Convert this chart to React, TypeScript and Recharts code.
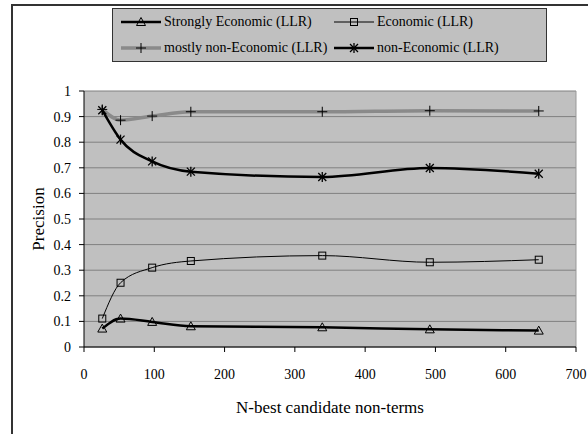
import React from 'react';
import { LineChart, Line, XAxis, YAxis, CartesianGrid, Legend, ReferenceLine } from 'recharts';

// N-best candidates (x) and precision for each LLR list
const nBest = [26, 52, 97, 152, 339, 492, 647];
const stronglyEconomic = [0.072, 0.111, 0.098, 0.081, 0.077, 0.069, 0.064];
const economic = [0.111, 0.251, 0.31, 0.336, 0.357, 0.331, 0.341];
const mostlyNonEconomic = [0.928, 0.886, 0.902, 0.919, 0.919, 0.923, 0.922];
const nonEconomic = [0.925, 0.81, 0.725, 0.685, 0.664, 0.699, 0.677];

const xTicks = [0, 100, 200, 300, 400, 500, 600, 700];
const yTicks = [0, 0.1, 0.2, 0.3, 0.4, 0.5, 0.6, 0.7, 0.8, 0.9, 1];

const FONT = "'Liberation Serif', 'Times New Roman', serif";

const data = nBest.map((n, i) => ({
  n,
  strong: stronglyEconomic[i],
  econ: economic[i],
  mostly: mostlyNonEconomic[i],
  nonEcon: nonEconomic[i]
}));

type MarkerKind = 'triangle' | 'square' | 'plus' | 'star';

function Marker({ kind, cx, cy }: { kind: MarkerKind; cx: number; cy: number }) {
  if (kind === 'triangle') {
    return (
      <path
        d={`M${cx},${cy - 4.5} L${cx + 4.5},${cy + 3.5} L${cx - 4.5},${cy + 3.5} Z`}
        fill="none"
        stroke="#000"
        strokeWidth={1}
      />
    );
  }
  if (kind === 'square') {
    return <rect x={cx - 3.5} y={cy - 3.5} width={7} height={7} fill="none" stroke="#000" strokeWidth={1} />;
  }
  if (kind === 'plus') {
    return (
      <g stroke="#000" strokeWidth={1}>
        <line x1={cx - 5} y1={cy} x2={cx + 5} y2={cy} />
        <line x1={cx} y1={cy - 5} x2={cx} y2={cy + 5} />
      </g>
    );
  }
  return (
    <g stroke="#000" strokeWidth={1.3}>
      <line x1={cx - 4} y1={cy - 4} x2={cx + 4} y2={cy + 4} />
      <line x1={cx + 4} y1={cy - 4} x2={cx - 4} y2={cy + 4} />
      <line x1={cx} y1={cy - 5} x2={cx} y2={cy + 5} />
    </g>
  );
}

const series: { key: string; name: string; stroke: string; width: number; marker: MarkerKind }[] = [
  { key: 'strong', name: 'Strongly Economic (LLR)', stroke: '#000', width: 2.5, marker: 'triangle' },
  { key: 'econ', name: 'Economic (LLR)', stroke: '#000', width: 1, marker: 'square' },
  { key: 'mostly', name: 'mostly non-Economic (LLR)', stroke: '#8a8a8a', width: 3.5, marker: 'plus' },
  { key: 'nonEcon', name: 'non-Economic (LLR)', stroke: '#000', width: 2.5, marker: 'star' }
];

function LegendBox() {
  const cols = [8, 221];
  const rows = [3, 29];
  return (
    <div
      style={{
        width: 435,
        height: 54,
        boxSizing: 'border-box',
        border: '1.5px solid #333',
        background: '#c0c0c0',
        position: 'relative',
        fontFamily: FONT,
        fontSize: 14,
        color: '#000'
      }}
    >
      {series.map((s, i) => (
        <div
          key={s.key}
          style={{
            position: 'absolute',
            left: cols[i % 2],
            top: rows[Math.floor(i / 2)],
            height: 20,
            display: 'flex',
            alignItems: 'center',
            whiteSpace: 'nowrap'
          }}
        >
          <svg width={40} height={20} style={{ marginRight: 3 }}>
            <line x1={0} y1={10} x2={40} y2={10} stroke={s.stroke} strokeWidth={s.width} />
            <Marker kind={s.marker} cx={20} cy={10} />
          </svg>
          <span>{s.name}</span>
        </div>
      ))}
    </div>
  );
}

function PrecisionLabel(props: any) {
  const vb = props.viewBox;
  const cx = vb.x + vb.width / 2 - 4;
  const cy = vb.y + vb.height / 2;
  return (
    <text
      x={cx}
      y={cy}
      transform={`rotate(-90 ${cx} ${cy})`}
      textAnchor="middle"
      dominantBaseline="central"
      fontFamily={FONT}
      fontSize={17}
      fill="#000"
    >
      Precision
    </text>
  );
}

export default function App() {
  return (
    <div
      style={{
        position: 'fixed',
        left: 0,
        top: 0,
        width: 588,
        height: 434,
        background: '#fff',
        overflow: 'hidden',
        fontFamily: FONT
      }}
    >
      {/* outer chart frame, cut off on the right and bottom */}
      <div
        style={{
          position: 'absolute',
          left: 11,
          top: 4,
          width: 577,
          height: 430,
          borderTop: '2px solid #333',
          borderLeft: '2px solid #333'
        }}
      />
      <LineChart
        width={588}
        height={434}
        data={data}
        margin={{ top: 91, right: 12, bottom: 17, left: 0 }}
        style={{ fontFamily: FONT }}
      >
        <CartesianGrid vertical={false} stroke="#808080" fill="#c0c0c0" fillOpacity={1} />
        <ReferenceLine x={700} stroke="#999" />
        <XAxis
          type="number"
          dataKey="n"
          domain={[0, 700]}
          ticks={xTicks}
          height={70}
          tickSize={5}
          tickMargin={17}
          stroke="#000"
          tick={{ fill: '#000', fontSize: 14, fontFamily: FONT }}
          label={{
            value: 'N-best candidate non-terms',
            position: 'insideBottom',
            offset: 4,
            fill: '#000',
            fontSize: 17,
            fontFamily: FONT
          }}
        />
        <YAxis
          type="number"
          domain={[0, 1]}
          ticks={yTicks}
          width={84}
          tickSize={5}
          tickMargin={8}
          stroke="#000"
          tick={{ fill: '#000', fontSize: 14, fontFamily: FONT }}
          label={<PrecisionLabel />}
        />
        <Legend
          layout="horizontal"
          verticalAlign="middle"
          align="center"
          wrapperStyle={{ left: 112, top: 8, width: 435, height: 54 }}
          content={() => <LegendBox />}
        />
        {series.map((s) => (
          <Line
            key={s.key}
            type="monotone"
            dataKey={s.key}
            name={s.name}
            stroke={s.stroke}
            strokeWidth={s.width}
            isAnimationActive={false}
            dot={(p: any) => <Marker key={`${s.key}-${p.index}`} kind={s.marker} cx={p.cx} cy={p.cy} />}
            activeDot={false}
          />
        ))}
      </LineChart>
    </div>
  );
}
